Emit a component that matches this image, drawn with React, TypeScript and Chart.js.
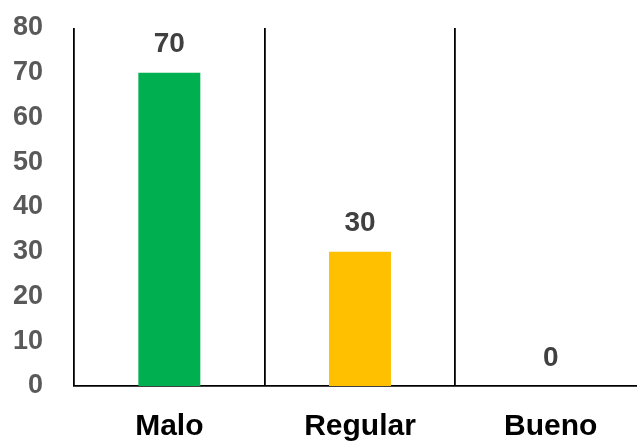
import React, { useEffect, useRef } from "react";
import { Chart, registerables } from "chart.js";

Chart.register(...registerables);

const categories = ["Malo", "Regular", "Bueno"];
const values = [70, 30, 0];
const barColors = ["#00B050", "#FFC000", "#A5A5A5"];
const yTicks = { min: 0, max: 80, step: 10 };

const valueLabels = {
  id: "valueLabels",
  afterDatasetsDraw(chart: any) {
    const { ctx } = chart;
    const meta = chart.getDatasetMeta(0);
    const data = chart.data.datasets[0].data as number[];
    ctx.save();
    ctx.font = "bold 28px 'Liberation Sans', Arial, sans-serif";
    ctx.fillStyle = "#404040";
    ctx.textAlign = "center";
    ctx.textBaseline = "bottom";
    meta.data.forEach((bar: any, i: number) => {
      ctx.fillText(String(data[i]), bar.x, bar.y - 14);
    });
    ctx.restore();
  },
};

export default function App() {
  const ref = useRef<HTMLCanvasElement | null>(null);

  useEffect(() => {
    if (!ref.current) return;
    const chart = new Chart(ref.current, {
      type: "bar",
      data: {
        labels: categories,
        datasets: [
          {
            data: values,
            backgroundColor: barColors,
            borderWidth: 0,
            categoryPercentage: 1,
            barPercentage: 0.325,
          },
        ],
      },
      options: {
        animation: false,
        responsive: false,
        layout: { padding: { top: 28, right: 14, left: 0, bottom: 0 } },
        plugins: { legend: { display: false }, tooltip: { enabled: false } },
        scales: {
          x: {
            offset: true,
            grid: {
              display: true,
              offset: true,
              color: "#000000",
              lineWidth: 1.8,
              drawTicks: false,
            },
            border: { display: true, color: "#000000", width: 1.8 },
            ticks: {
              color: "#000000",
              padding: 23,
              font: { family: "'Liberation Sans', Arial, sans-serif", size: 30, weight: "bold" },
            },
            afterFit: (s: any) => {
              s.height = 55;
              s.paddingLeft = 0;
              s.paddingRight = 0;
            },
          },
          y: {
            min: yTicks.min,
            max: yTicks.max,
            grid: { display: false, drawTicks: false },
            border: { display: false },
            ticks: {
              stepSize: yTicks.step,
              color: "#595959",
              padding: 31,
              font: { family: "'Liberation Sans', Arial, sans-serif", size: 27, weight: "bold" },
            },
            afterFit: (s: any) => {
              s.width = 74;
              s.paddingTop = 0;
              s.paddingBottom = 0;
            },
          },
        },
      },
      plugins: [valueLabels],
    });
    return () => chart.destroy();
  }, []);

  return (
    <div
      style={{
        position: "fixed",
        left: 0,
        top: 0,
        width: 637,
        height: 441,
        overflow: "hidden",
        background: "#ffffff",
      }}
    >
      <canvas ref={ref} width={660} height={441} style={{ width: 660, height: 441 }} />
    </div>
  );
}
